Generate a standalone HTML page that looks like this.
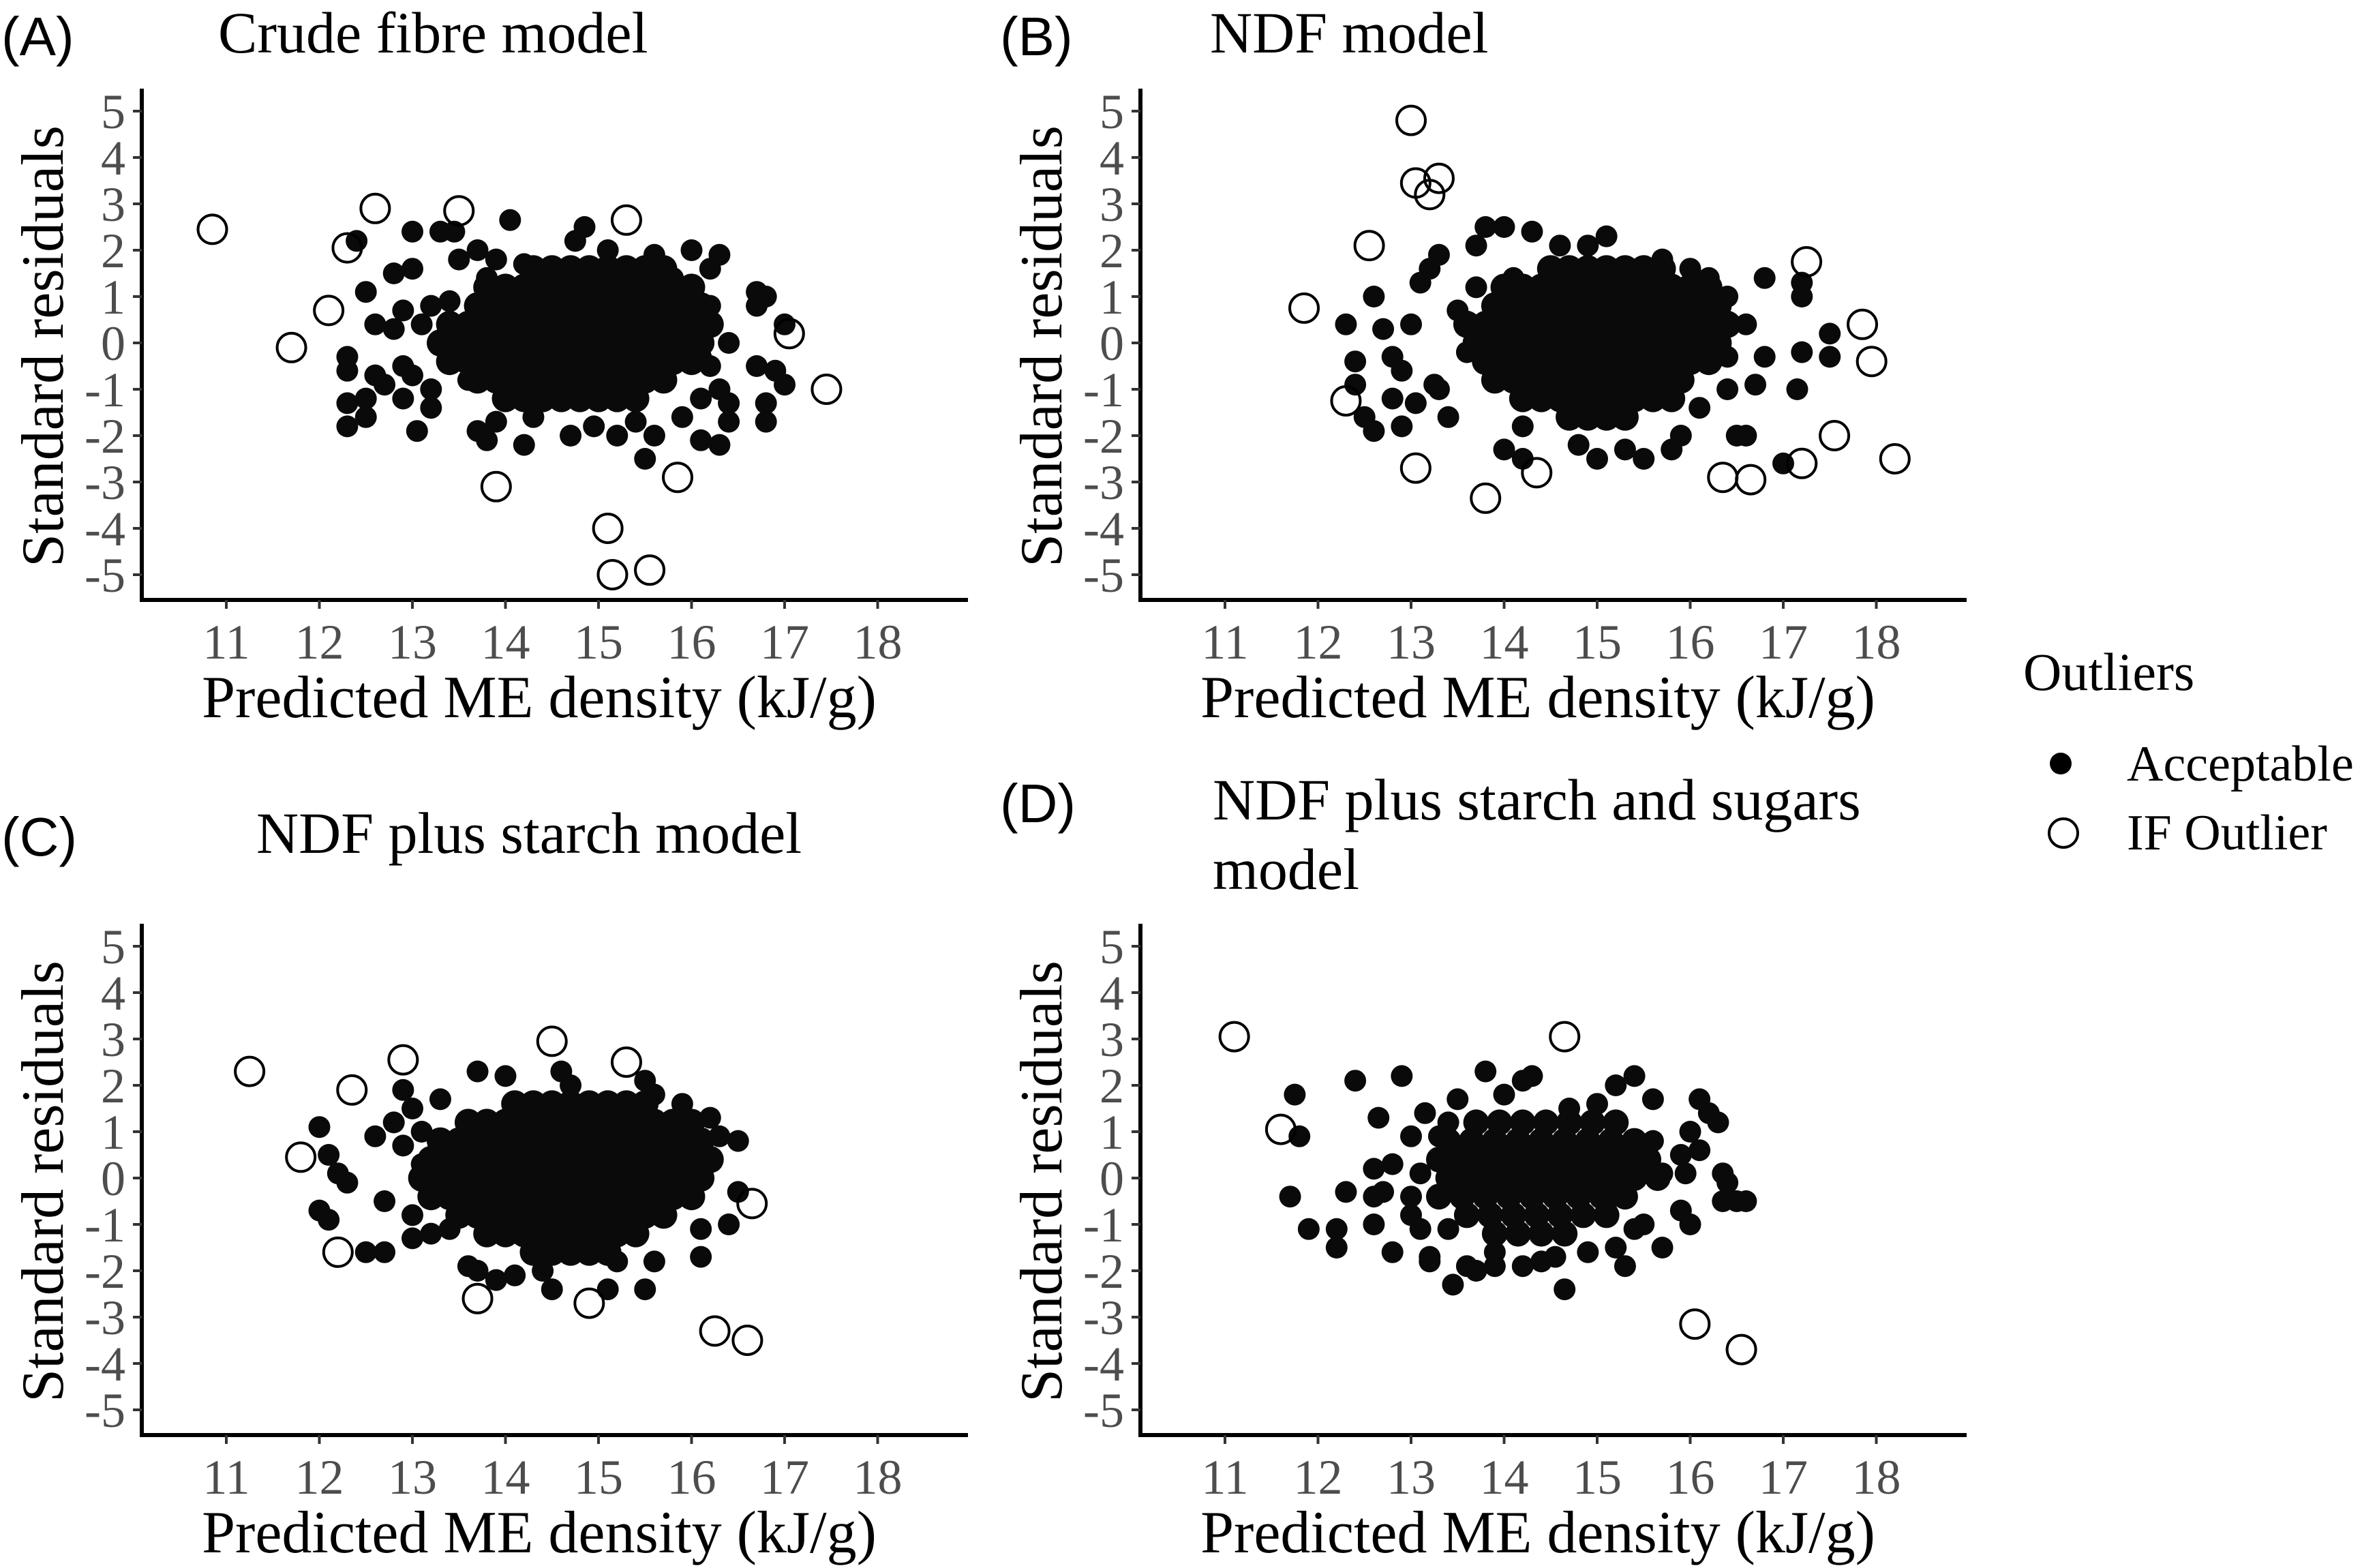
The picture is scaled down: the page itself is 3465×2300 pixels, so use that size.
<!DOCTYPE html>
<html><head><meta charset="utf-8"><style>
html,body{margin:0;padding:0;background:#fff;}
svg{display:block;}
.serif{font-family:"Liberation Serif",serif;}
.sans{font-family:"Liberation Sans",sans-serif;}
</style></head>
<body>
<svg id="fig" class="serif" width="3465" height="2300" viewBox="0 0 3465 2300" xmlns="http://www.w3.org/2000/svg">
<rect width="3465" height="2300" fill="#fff"/>
<g id="legend">
<text class="serif" x="2968" y="1012" font-size="78" fill="#000">Outliers</text>
<circle cx="3023" cy="1120" r="16" fill="#000"/>
<text class="serif" x="3120" y="1145" font-size="74" fill="#000">Acceptable</text>
<circle cx="3027" cy="1222" r="21" fill="none" stroke="#000" stroke-width="4"/>
<text class="serif" x="3120" y="1246" font-size="74" fill="#000">IF Outlier</text>
</g>
</svg>
<script>
const xTicks=[11,12,13,14,15,16,17,18];
const yTicks=[5,4,3,2,1,0,-1,-2,-3,-4,-5];

const accA=[[12.4,2.2],[12.3,-0.3],[12.3,-0.6],[12.3,-1.3],[12.3,-1.8],[12.5,1.1],[12.5,-1.2],[12.5,-1.6],[12.6,0.4],[12.6,-0.7],[12.7,-0.9],[12.8,1.5],[12.8,0.3],[12.9,0.7],[12.9,-0.5],[12.9,-1.2],[13.0,2.4],[13.0,1.6],[13.0,-0.7],[13.05,-1.9],[13.1,0.4],[13.2,-1.0],[13.2,-1.4],[13.2,0.8],[13.3,2.4],[13.4,0.9],[13.45,2.4],[13.5,1.8],[13.6,-0.8],[13.7,2.0],[13.7,-1.9],[13.8,-2.1],[13.8,1.4],[13.9,1.8],[13.9,-1.7],[14.05,2.65],[14.2,1.7],[14.2,-2.2],[14.3,-1.6],[14.5,1.6],[14.7,-2.0],[14.75,2.2],[14.85,2.5],[14.95,-1.8],[15.1,2.0],[15.2,-2.0],[15.4,-1.7],[15.5,-2.5],[15.6,1.9],[15.6,-2.0],[15.9,-1.6],[16.0,2.0],[16.1,-2.1],[16.2,1.6],[16.3,1.9],[16.3,-2.2],[16.3,-1.0],[16.4,0.0],[16.4,-1.3],[16.4,-1.7],[16.7,0.8],[16.7,1.1],[16.7,-0.5],[16.8,1.0],[16.8,-1.3],[16.8,-1.7],[16.9,-0.6],[17.0,0.4],[17.0,-0.9],[16.2,0.8],[16.1,-0.3],[16.2,-0.5],[15.8,1.4],[16.0,0.4],[16.1,-1.2]];
const coreA=[[1.6,[14.3,14.5,14.7,14.9,15.1,15.3,15.5,15.7]],[1.2,[13.8,14.0,14.2,14.4,14.6,14.8,15.0,15.2,15.4,15.6,15.8,16.0]],[0.8,[13.7,13.9,14.1,14.3,14.5,14.7,14.9,15.1,15.3,15.5,15.7,15.9,16.1]],[0.4,[13.4,13.6,13.8,14.0,14.2,14.4,14.6,14.8,15.0,15.2,15.4,15.6,15.8,16.0,16.2]],[0.0,[13.3,13.5,13.7,13.9,14.1,14.3,14.5,14.7,14.9,15.1,15.3,15.5,15.7,15.9,16.1]],[-0.4,[13.4,13.6,13.8,14.0,14.2,14.4,14.6,14.8,15.0,15.2,15.4,15.6,15.8,16.0]],[-0.8,[13.7,13.9,14.1,14.3,14.5,14.7,14.9,15.1,15.3,15.5,15.7]],[-1.2,[14.0,14.2,14.4,14.6,14.8,15.0,15.2,15.4]]];
const outA=[[10.85,2.45],[11.7,-0.1],[12.1,0.7],[12.3,2.05],[12.6,2.9],[13.5,2.85],[13.9,-3.1],[15.3,2.65],[15.1,-4.0],[15.15,-5.0],[15.55,-4.9],[15.85,-2.9],[17.05,0.2],[17.45,-1.0]];

const accB=[[12.3,0.4],[12.4,-0.4],[12.4,-0.9],[12.5,-1.6],[12.6,-1.9],[12.6,1.0],[12.7,0.3],[12.8,-0.3],[12.8,-1.2],[12.9,-0.6],[12.9,-1.8],[13.0,0.4],[13.05,-1.3],[13.1,1.3],[13.2,1.6],[13.25,-0.9],[13.3,1.9],[13.3,-1.0],[13.4,-1.6],[13.5,0.7],[13.6,-0.2],[13.7,2.1],[13.7,1.2],[13.8,2.5],[14.0,2.5],[14.0,-2.3],[14.1,1.4],[14.2,-1.8],[14.3,2.4],[14.2,-2.5],[14.6,2.1],[14.8,-2.2],[14.9,2.1],[15.0,-2.5],[15.1,2.3],[15.3,-2.3],[15.5,-2.5],[15.7,1.8],[15.8,-2.3],[15.9,-2.0],[16.0,1.6],[16.1,-1.4],[16.2,1.4],[16.4,1.0],[16.4,-0.3],[16.5,-2.0],[16.6,-2.0],[16.4,-1.0],[16.8,1.4],[16.8,-0.3],[17.0,-2.6],[17.15,-1.0],[17.2,1.3],[17.2,1.0],[17.2,-0.2],[17.5,0.2],[17.5,-0.3],[16.7,-0.9],[16.6,0.4]];
const coreB=[[1.6,[14.5,14.7,14.9,15.1,15.3,15.5,15.7]],[1.2,[14.0,14.2,14.4,14.6,14.8,15.0,15.2,15.4,15.6,15.8,16.0,16.2]],[0.8,[13.9,14.1,14.3,14.5,14.7,14.9,15.1,15.3,15.5,15.7,15.9,16.1,16.3]],[0.4,[13.6,13.8,14.0,14.2,14.4,14.6,14.8,15.0,15.2,15.4,15.6,15.8,16.0,16.2,16.4]],[0.0,[13.7,13.9,14.1,14.3,14.5,14.7,14.9,15.1,15.3,15.5,15.7,15.9,16.1,16.3]],[-0.4,[13.8,14.0,14.2,14.4,14.6,14.8,15.0,15.2,15.4,15.6,15.8,16.0,16.2]],[-0.8,[13.9,14.1,14.3,14.5,14.7,14.9,15.1,15.3,15.5,15.7,15.9]],[-1.2,[14.2,14.4,14.6,14.8,15.0,15.2,15.4,15.6,15.8]],[-1.6,[14.7,14.9,15.1,15.3]]];
const outB=[[11.85,0.75],[12.3,-1.25],[12.55,2.1],[13.0,4.8],[13.05,3.45],[13.3,3.55],[13.2,3.2],[13.05,-2.7],[13.8,-3.35],[14.35,-2.8],[16.35,-2.9],[16.65,-2.95],[17.2,-2.6],[17.25,1.75],[17.55,-2.0],[17.85,0.4],[17.95,-0.4],[18.2,-2.5]];

const accC=[[12.0,1.1],[12.0,-0.7],[12.1,-0.9],[12.1,0.5],[12.2,0.1],[12.3,-0.1],[12.5,-1.6],[12.6,0.9],[12.7,-0.5],[12.7,-1.6],[12.8,1.2],[12.9,0.7],[12.9,1.9],[13.0,-0.8],[13.0,1.5],[13.0,-1.3],[13.1,0.3],[13.1,1.0],[13.2,-0.2],[13.2,-1.2],[13.3,1.7],[13.4,-1.1],[13.6,-1.9],[13.7,-2.0],[13.7,2.3],[13.9,-2.2],[14.0,2.2],[14.1,-2.1],[14.4,-2.0],[14.5,-2.4],[14.6,2.3],[14.7,2.0],[15.1,-2.4],[15.2,-1.8],[15.5,-2.4],[15.6,-1.8],[15.6,1.8],[15.5,2.1],[15.9,1.6],[16.1,-1.7],[16.2,1.3],[16.3,0.9],[16.5,0.8],[16.5,-0.3],[16.4,-1.0],[16.1,-1.1]];
const coreC=[[1.6,[14.1,14.3,14.5,14.7,14.9,15.1,15.3,15.5]],[1.2,[13.6,13.8,14.0,14.2,14.4,14.6,14.8,15.0,15.2,15.4,15.6,15.8,16.0]],[0.8,[13.3,13.5,13.7,13.9,14.1,14.3,14.5,14.7,14.9,15.1,15.3,15.5,15.7,15.9,16.1]],[0.4,[13.2,13.4,13.6,13.8,14.0,14.2,14.4,14.6,14.8,15.0,15.2,15.4,15.6,15.8,16.0,16.2]],[0.0,[13.1,13.3,13.5,13.7,13.9,14.1,14.3,14.5,14.7,14.9,15.1,15.3,15.5,15.7,15.9,16.1]],[-0.4,[13.2,13.4,13.6,13.8,14.0,14.2,14.4,14.6,14.8,15.0,15.2,15.4,15.6,15.8,16.0]],[-0.8,[13.5,13.7,13.9,14.1,14.3,14.5,14.7,14.9,15.1,15.3,15.5,15.7]],[-1.2,[13.8,14.0,14.2,14.4,14.6,14.8,15.0,15.2,15.4]],[-1.6,[14.3,14.5,14.7,14.9,15.1]]];
const outC=[[11.25,2.3],[11.8,0.45],[12.2,-1.6],[12.35,1.9],[12.9,2.55],[13.7,-2.6],[14.5,2.95],[14.9,-2.7],[15.3,2.5],[16.25,-3.3],[16.6,-3.5],[16.65,-0.55]];

const accD=[[11.75,1.8],[11.8,0.9],[11.7,-0.4],[11.9,-1.1],[12.2,-1.5],[12.2,-1.1],[12.3,-0.3],[12.4,2.1],[12.6,0.2],[12.6,-0.4],[12.6,-1.0],[12.65,1.3],[12.7,-0.3],[12.8,0.3],[12.8,-1.6],[12.9,2.2],[13.0,0.9],[13.0,-0.4],[13.0,-0.8],[13.1,-1.1],[13.1,0.1],[13.15,1.4],[13.2,-1.7],[13.2,-1.8],[13.3,0.9],[13.4,-1.1],[13.4,1.2],[13.45,-2.3],[13.5,1.7],[13.6,-1.9],[13.7,-2.0],[13.8,2.3],[13.9,-1.6],[13.9,-1.9],[14.0,1.8],[14.2,2.1],[14.2,-1.9],[14.3,2.2],[14.4,-1.8],[14.55,-1.7],[14.65,-2.4],[14.7,1.5],[14.9,-1.6],[15.0,1.6],[15.2,2.0],[15.2,-1.5],[15.3,-1.9],[15.4,2.2],[15.5,-1.0],[15.6,1.7],[15.6,0.8],[15.7,-1.5],[15.7,0.1],[15.9,0.5],[15.9,-0.7],[16.0,-1.0],[16.0,1.0],[16.1,1.7],[16.1,0.6],[16.2,1.4],[16.3,1.2],[16.35,-0.5],[16.4,-0.1],[16.35,0.1],[16.5,-0.5],[16.6,-0.5],[15.95,0.1],[15.4,-1.1],[15.1,-0.7]];
const coreD=[[1.2,[13.7,13.95,14.2,14.45,14.7,14.95,15.2]],[0.8,[13.4,13.65,13.9,14.15,14.4,14.65,14.9,15.15,15.4]],[0.4,[13.3,13.55,13.8,14.05,14.3,14.55,14.8,15.05,15.3,15.55]],[0.0,[13.4,13.65,13.9,14.15,14.4,14.65,14.9,15.15,15.4,15.65]],[-0.4,[13.3,13.55,13.8,14.05,14.3,14.55,14.8,15.05,15.3]],[-0.8,[13.6,13.85,14.1,14.35,14.6,14.85,15.1]],[-1.2,[13.9,14.15,14.4,14.65]]];
const outD=[[11.1,3.05],[11.6,1.05],[14.65,3.05],[16.05,-3.15],[16.55,-3.7]];

const panels=[
 {id:'a',label:'(A)',title:['Crude fibre model'],dx:0,dy:0,ly:77,acc:accA,core:coreA,out:outA,solid:true},
 {id:'b',label:'(B)',title:['NDF model'],dx:1465,dy:0,ly:77,acc:accB,core:coreB,out:outB,solid:true},
 {id:'c',label:'(C)',title:['NDF plus starch model'],dx:0,dy:1225,ly:1251,acc:accC,core:coreC,out:outC,solid:true},
 {id:'d',label:'(D)',title:['NDF plus starch and sugars','model'],dx:1465,dy:1225,ly:1202,acc:accD,core:coreD,out:outD,solid:false}
];
const titleX=[320,1775,376,1779];
const NS='http://www.w3.org/2000/svg';
const svg=document.getElementById('fig');
function mk(tag,attrs,parent){const e=document.createElementNS(NS,tag);for(const k in attrs)e.setAttribute(k,attrs[k]);parent.appendChild(e);return e;}

panels.forEach((p,pi)=>{
 const g=mk('g',{},svg);
 
 
 const X=v=>p.dx+332+(v-11)*136.5;
 const Y=v=>p.dy+503-v*68;
 const axL=p.dx+208, axB=p.dy+880, axT=p.dy+130, axR=p.dx+1420;
 const lab=mk('text',{x:p.dx+2,y:p.ly+4,'font-size':80,fill:'#000',class:'sans'},g);
 lab.textContent=p.label;
 
 
 p.title.forEach((t,i)=>{
  const tt=mk('text',{x:titleX[pi],y:p.ly+i*102,'font-size':86,fill:'#000'},g);
  tt.textContent=t;
  
  
 });
 const ya=mk('line',{x1:axL,y1:axT,x2:axL,y2:axB+3,stroke:'#000','stroke-width':6},g);
 
 
 const xa=mk('line',{x1:axL-3,y1:axB,x2:axR,y2:axB,stroke:'#000','stroke-width':6},g);
 
 
 yTicks.forEach(v=>{
  const tk=mk('line',{x1:axL-13,y1:Y(v),x2:axL,y2:Y(v),stroke:'#333','stroke-width':4},g);
  
  
  const tl=mk('text',{x:axL-24,y:Y(v)+25,'font-size':72,fill:'#4d4d4d','text-anchor':'end'},g);
  tl.textContent=String(v);
  
  
 });
 xTicks.forEach(v=>{
  const tk=mk('line',{x1:X(v),y1:axB,x2:X(v),y2:axB+13,stroke:'#333','stroke-width':4},g);
  
  
  const tl=mk('text',{x:X(v),y:p.dy+966,'font-size':72,fill:'#4d4d4d','text-anchor':'middle'},g);
  tl.textContent=String(v);
  
  
 });
 const xt=mk('text',{x:p.dx+791,y:p.dy+1052,'font-size':88,fill:'#000','text-anchor':'middle'},g);
 xt.textContent='Predicted ME density (kJ/g)';
 
 
 const yt=mk('text',{x:0,y:0,'font-size':88,fill:'#000','text-anchor':'middle',transform:`translate(${p.dx+92},${p.dy+508}) rotate(-90)`},g);
 yt.textContent='Standard residuals';
 
 
 const coreR=p.solid?20:19;
 p.core.forEach(row=>{row[1].forEach(x=>{
  const c=mk('circle',{cx:X(x),cy:Y(row[0]),r:coreR,fill:'#0a0a0a'},g);
  
  
 });});
 p.acc.forEach(d=>{
  const c=mk('circle',{cx:X(d[0]),cy:Y(d[1]),r:16,fill:'#0a0a0a'},g);
  
  
 });
 p.out.forEach(d=>{
  const c=mk('circle',{cx:X(d[0]),cy:Y(d[1]),r:21,fill:'none',stroke:'#000','stroke-width':4},g);
  
  
 });
});
</script>
</body></html>
